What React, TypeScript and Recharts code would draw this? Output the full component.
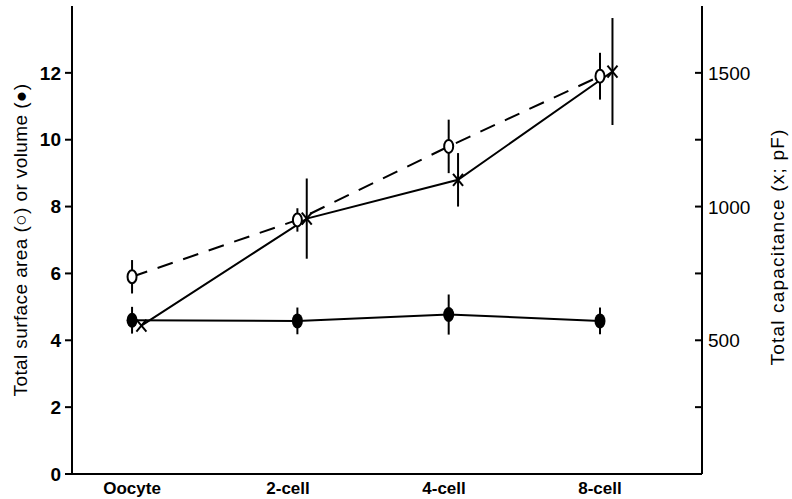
import { LineChart, Line, XAxis, YAxis, ErrorBar } from "recharts";

const stages = ["Oocyte", "2-cell", "4-cell", "8-cell"];
const stageTicks = [0, 1, 2, 3];

// x positions (stage index units)
const stageX = [0, 1.06, 2.03, 3.0];
const capX = [0.06, 1.12, 2.09, 3.08];

// left axis: surface area (open) and volume (filled)
const surfaceArea = [5.9, 7.6, 9.8, 11.9];
const surfaceErr = [0.5, 0.35, 0.8, 0.7];
const volume = [4.6, 4.58, 4.77, 4.58];
const volumeErr = [0.4, 0.4, 0.6, 0.4];

// right axis: capacitance (x; pF)
const capacitance = [555, 955, 1100, 1505];
const capErr = [0, 150, 100, 200];

const leftTicks = [0, 2, 4, 6, 8, 10, 12];
const rightTicks = [250, 500, 750, 1000, 1250, 1500];
const rightLabelled = [500, 1000, 1500];

const font = "'Liberation Sans', Arial, sans-serif";

const saData = stageX.map((x, i) => ({ x, v: surfaceArea[i], e: surfaceErr[i] }));
const volData = stageX.map((x, i) => ({ x, v: volume[i], e: volumeErr[i] }));
const capData = capX.map((x, i) => ({ x, v: capacitance[i], e: capErr[i] }));

const OpenDot = (p: any) => (
  <ellipse key={p.key} cx={p.cx} cy={p.cy} rx={4.5} ry={6.5} fill="#fff" stroke="#000" strokeWidth={2} />
);
const FilledDot = (p: any) => (
  <ellipse key={p.key} cx={p.cx} cy={p.cy} rx={5.5} ry={7.5} fill="#000" />
);
const CrossDot = (p: any) => (
  <g key={p.key} stroke="#000" strokeWidth={2}>
    <line x1={p.cx - 5} y1={p.cy - 6} x2={p.cx + 5} y2={p.cy + 6} />
    <line x1={p.cx - 5} y1={p.cy + 6} x2={p.cx + 5} y2={p.cy - 6} />
  </g>
);

const XTick = ({ x, y, payload }: any) => (
  <text x={x} y={y + 20} textAnchor="middle" fontFamily={font} fontSize={17} fontWeight="bold" fill="#000">
    {stages[payload.value]}
  </text>
);

const RightTick = ({ x, y, payload }: any) => (
  <g>
    <line x1={x - 7} x2={x} y1={y} y2={y} stroke="#000" strokeWidth={2} />
    {rightLabelled.includes(payload.value) && (
      <text x={x + 6} y={y + 7} fontFamily={font} fontSize={19} fill="#000">
        {payload.value}
      </text>
    )}
  </g>
);

export default function App() {
  return (
    <div style={{ position: "absolute", left: 0, top: 0, background: "#fff" }}>
      <LineChart width={792} height={499} margin={{ top: 6, right: 0, left: 0, bottom: 0 }}>
        <XAxis
          type="number"
          dataKey="x"
          domain={[-0.385, 3.654]}
          ticks={stageTicks}
          tick={<XTick />}
          tickLine={false}
          tickSize={0}
          tickMargin={0}
          height={25}
          axisLine={{ stroke: "#000", strokeWidth: 2 }}
          allowDataOverflow
        />
        <YAxis
          yAxisId="left"
          domain={[0, 14]}
          ticks={leftTicks}
          width={72}
          tickSize={7}
          tickMargin={4}
          tickLine={{ stroke: "#000", strokeWidth: 2 }}
          axisLine={{ stroke: "#000", strokeWidth: 2 }}
          tick={{ fontFamily: font, fontSize: 19, fontWeight: "bold", fill: "#000" }}
          label={() => (
            <text
              x={27}
              y={240}
              transform="rotate(-90 27 240)"
              textAnchor="middle"
              fontFamily={font}
              fontSize={19}
              letterSpacing={0.4}
              fill="#000"
            >
              Total surface area (○) or volume (●)
            </text>
          )}
        />
        <YAxis
          yAxisId="right"
          orientation="right"
          domain={[0, 1750]}
          ticks={rightTicks}
          width={90}
          tickSize={0}
          tickMargin={0}
          tickLine={false}
          axisLine={{ stroke: "#000", strokeWidth: 2 }}
          tick={<RightTick />}
          label={() => (
            <text
              x={784}
              y={247}
              transform="rotate(-90 784 247)"
              textAnchor="middle"
              fontFamily={font}
              fontSize={19}
              letterSpacing={1.2}
              fill="#000"
            >
              Total capacitance (x; pF)
            </text>
          )}
        />
        <Line
          yAxisId="left"
          data={volData}
          dataKey="v"
          stroke="#000"
          strokeWidth={2}
          dot={FilledDot}
          activeDot={false}
          isAnimationActive={false}
        >
          <ErrorBar dataKey="e" width={0} stroke="#000" strokeWidth={2} direction="y" />
        </Line>
        <Line
          yAxisId="left"
          data={saData}
          dataKey="v"
          stroke="#000"
          strokeWidth={2}
          strokeDasharray="16 11"
          dot={OpenDot}
          activeDot={false}
          isAnimationActive={false}
        >
          <ErrorBar dataKey="e" width={0} stroke="#000" strokeWidth={2} direction="y" />
        </Line>
        <Line
          yAxisId="right"
          data={capData}
          dataKey="v"
          stroke="#000"
          strokeWidth={2}
          dot={CrossDot}
          activeDot={false}
          isAnimationActive={false}
        >
          <ErrorBar dataKey="e" width={0} stroke="#000" strokeWidth={2} direction="y" />
        </Line>
      </LineChart>
    </div>
  );
}
